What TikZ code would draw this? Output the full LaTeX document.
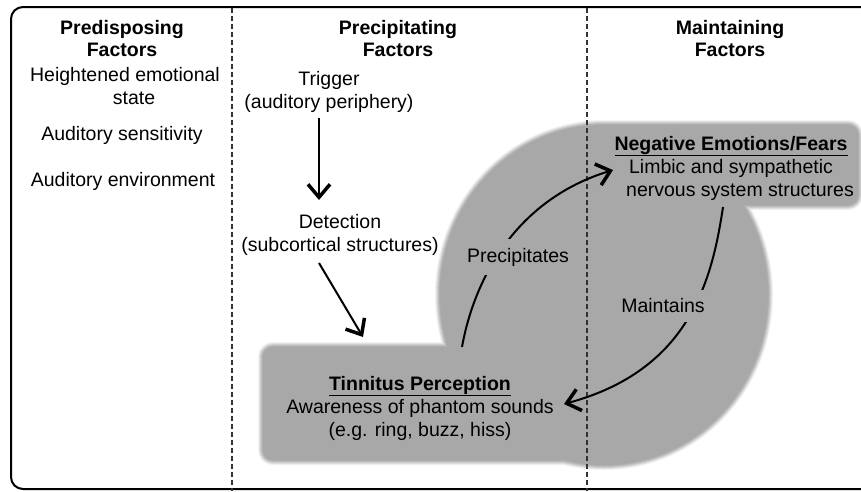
\documentclass[tikz,border=0pt]{standalone}
\usepackage{fontspec}
\setmainfont{Liberation Sans}
\usetikzlibrary{arrows.meta,calc}
\definecolor{blobgray}{RGB}{168,168,168}
\begin{document}
\begin{tikzpicture}[x=1pt,y=-1pt,
  txt/.style={font=\fontsize{19.5}{23}\selectfont, align=center, inner sep=0pt},
  hdr/.style={font=\fontsize{19.5}{22}\selectfont\bfseries, align=center, inner sep=0pt},
  lbl/.style={font=\fontsize{19.5}{23}\selectfont, fill=blobgray, inner xsep=5pt, inner ysep=9pt},
  arr/.style={line width=2pt, -{Straight Barb[length=13pt,width=22pt,line width=3.5pt]}},
  sep/.style={line width=1.5pt, black!80, dash pattern=on 5pt off 3pt},
  frame/.style={line width=2pt, rounded corners=12pt}
]
\useasboundingbox (0,0) rectangle (861,491);
\fill[white] (0,0) rectangle (861,491);

% soft-edged grey background (union of two boxes and a disc)
\foreach \w/\p in {10/15,8/35,6/55,4/75,2/92} {
  \draw[draw=blobgray!\p, fill=blobgray!\p, line width=\w pt, rounded corners=10pt] (263,347) rectangle (600,460);
  \draw[draw=blobgray!\p, fill=blobgray!\p, line width=\w pt, rounded corners=10pt] (600,125) rectangle (858,205);
  \draw[draw=blobgray!\p, fill=blobgray!\p, line width=\w pt] (604,295) ellipse [x radius=164pt, y radius=170pt];
}
\fill[blobgray, rounded corners=10pt] (263,347) rectangle (600,460);
\fill[blobgray, rounded corners=10pt] (600,125) rectangle (858,205);
\fill[blobgray] (604,295) ellipse [x radius=164pt, y radius=170pt];

% frame and column separators
\begin{scope}
\clip (0,0) rectangle (861,491);
\draw[frame] (11,7) rectangle (880,489);
\draw[sep] (232,8) -- (232,491);
\draw[sep] (587,8) -- (587,491);
\end{scope}

% headers
\node[hdr] (hpre)  at (122,39) {Predisposing\\Factors};
\node[hdr] (hprec) at (398,39) {Precipitating\\Factors};
\node[hdr] (hmain) at (730,39) {Maintaining\\Factors};

% predisposing factors
\node[txt] (emo)  at (125,86)  {Heightened emotional\\\hspace*{18pt}state};
\node[txt] (sens) at (122,135) {Auditory sensitivity};
\node[txt] (env)  at (123,181) {Auditory environment};

% precipitating chain
\node[txt] (trigger)   at (329,92)  {Trigger\\(auditory periphery)};
\node[txt] (detection) at (340,235) {Detection\\(subcortical structures)};
\node[txt] (tinnitus)  at (420,408) {\underline{\textbf{Tinnitus Perception}}\\Awareness of phantom sounds\\(e.g. ring, buzz, hiss)};
\node[txt] (negative)  at (731,168) {\underline{\textbf{Negative Emotions/Fears}}\\Limbic and sympathetic\\\hspace*{18pt}nervous system structures};

% connectors
\draw[arr] ($(trigger.center)+(-10,26)$) -- ($(detection.center)+(-21,-35)$);
\draw[arr] ($(detection.center)+(-21,28)$) -- ($(tinnitus.center)+(-57,-71)$);
\draw[arr] ($(tinnitus.center)+(42,-61)$) .. controls (474,280) and (515,200) .. ($(negative.center)+(-118,2)$);
\draw[arr] ($(negative.center)+(-8,39)$) .. controls (712,280) and (690,370) .. ($(tinnitus.center)+(144,-4)$);

% connector labels
\node[lbl] (lprec) at (518,257) {Precipitates};
\node[lbl] (lmain) at (663,306) {Maintains};
\end{tikzpicture}
\end{document}
